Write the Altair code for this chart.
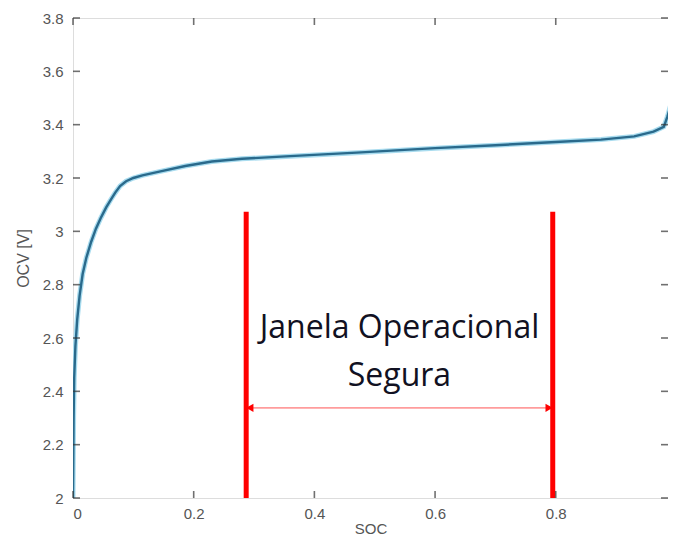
import altair as alt
import pandas as pd

soc = [0.0, 0.0005, 0.001, 0.002, 0.004, 0.007, 0.011, 0.016, 0.022, 0.03, 0.038,
       0.046, 0.055, 0.063, 0.07, 0.078, 0.088, 0.1, 0.115, 0.143, 0.186, 0.23,
       0.28, 0.36, 0.47, 0.6, 0.7, 0.8, 0.875, 0.93, 0.962, 0.979, 0.985, 0.99]
ocv = [2.0, 2.15, 2.3, 2.45, 2.57, 2.67, 2.76, 2.84, 2.9, 2.96, 3.01,
       3.05, 3.09, 3.12, 3.145, 3.17, 3.188, 3.2, 3.21, 3.224, 3.245, 3.262,
       3.272, 3.282, 3.295, 3.312, 3.323, 3.335, 3.344, 3.356, 3.374, 3.392, 3.43, 3.47]

window_soc = [0.287, 0.795]
window_top = 3.073
arrow_ocv = 2.338
arrow_ends = [0.293, 0.789]
label_lines = ["Janela Operacional", "Segura"]
label_ocv = [2.638, 2.458]
label_soc = 0.541

x_ticks = [0, 0.2, 0.4, 0.6, 0.8]
y_ticks = [2, 2.2, 2.4, 2.6, 2.8, 3, 3.2, 3.4, 3.6, 3.8]
x_max = 0.986
y_min, y_max = 2.0, 3.8

curve = pd.DataFrame({"soc": soc, "ocv": ocv, "i": range(len(soc))})

xs = alt.Scale(domain=[0, x_max], nice=False, zero=False)
ys = alt.Scale(domain=[y_min, y_max], nice=False, zero=False)

xax = alt.Axis(values=x_ticks, format="~g", ticks=False, domain=False, grid=False,
               labelPadding=8, labelFontSize=15, labelColor="#555", labelFont="Liberation Sans",
               title="SOC", titleFontSize=15, titleFontWeight="normal", titleColor="#555",
               titleFont="Liberation Sans", titlePadding=0)
yax = alt.Axis(values=y_ticks, format="~g", ticks=False, domain=False, grid=False,
               labelPadding=10, labelFontSize=15, labelColor="#555", labelFont="Liberation Sans",
               title="OCV [V]", titleFontSize=16, titleFontWeight="normal", titleColor="#555",
               titleFont="Liberation Sans", titlePadding=11)

base = alt.Chart(curve)

glow = base.mark_line(color="#a9dcef", strokeWidth=5, clip=True).encode(
    x=alt.X("soc:Q", scale=xs, axis=xax),
    y=alt.Y("ocv:Q", scale=ys, axis=yax),
    order="i:Q",
)
line = base.mark_line(color="#2a6a8c", strokeWidth=2.4, clip=True).encode(
    x=alt.X("soc:Q", scale=xs),
    y=alt.Y("ocv:Q", scale=ys),
    order="i:Q",
)

red = alt.Chart(pd.DataFrame({"soc": window_soc, "top": [window_top] * 2, "bot": [y_min] * 2})).mark_rule(
    color="#ff0000", strokeWidth=5).encode(
    x=alt.X("soc:Q", scale=xs), y=alt.Y("top:Q", scale=ys), y2="bot:Q")

arrow_line = alt.Chart(pd.DataFrame({"a": [arrow_ends[0]], "b": [arrow_ends[1]], "y": [arrow_ocv]})).mark_rule(
    color="#ff9c9c", strokeWidth=1.8).encode(
    x=alt.X("a:Q", scale=xs), x2="b:Q", y=alt.Y("y:Q", scale=ys))

heads = alt.Chart(pd.DataFrame({"soc": arrow_ends, "y": [arrow_ocv] * 2,
                                "shape": ["triangle-left", "triangle-right"]})).mark_point(
    filled=True, color="#ff0000", size=70, opacity=1).encode(
    x=alt.X("soc:Q", scale=xs), y=alt.Y("y:Q", scale=ys),
    shape=alt.Shape("shape:N", scale=None))

text = alt.Chart(pd.DataFrame({"t": label_lines, "y": label_ocv, "x": [label_soc] * 2})).mark_text(
    font="Open Sans", fontSize=32, color="#111122", align="center", baseline="middle").encode(
    x=alt.X("x:Q", scale=xs), y=alt.Y("y:Q", scale=ys), text="t:N")

tk = dict(color="#333", thickness=1.6, size=7)
bottom_ticks = alt.Chart(pd.DataFrame({"v": x_ticks, "p": [y_min] * len(x_ticks)})).mark_tick(
    orient="vertical", yOffset=-3.5, **tk).encode(x=alt.X("v:Q", scale=xs), y=alt.Y("p:Q", scale=ys))
top_ticks = alt.Chart(pd.DataFrame({"v": x_ticks, "p": [y_max] * len(x_ticks)})).mark_tick(
    orient="vertical", yOffset=3.5, **tk).encode(x=alt.X("v:Q", scale=xs), y=alt.Y("p:Q", scale=ys))
left_ticks = alt.Chart(pd.DataFrame({"v": y_ticks, "p": [0] * len(y_ticks)})).mark_tick(
    orient="horizontal", xOffset=3.5, **tk).encode(y=alt.Y("v:Q", scale=ys), x=alt.X("p:Q", scale=xs))
right_ticks = alt.Chart(pd.DataFrame({"v": y_ticks, "p": [x_max] * len(y_ticks)})).mark_tick(
    orient="horizontal", xOffset=-3.5, **tk).encode(y=alt.Y("v:Q", scale=ys), x=alt.X("p:Q", scale=xs))

chart = alt.layer(glow, line, red, arrow_line, heads, text,
                  bottom_ticks, top_ticks, left_ticks, right_ticks).properties(
    width=595, height=480,
    autosize=alt.AutoSizeParams(type="none"),
    padding={"left": 65, "top": 10, "right": 0, "bottom": 40},
).configure_view(stroke="#333", strokeWidth=1.6).configure(background="white")

chart.save("out.html", embed_options={"renderer": "svg", "actions": False})
